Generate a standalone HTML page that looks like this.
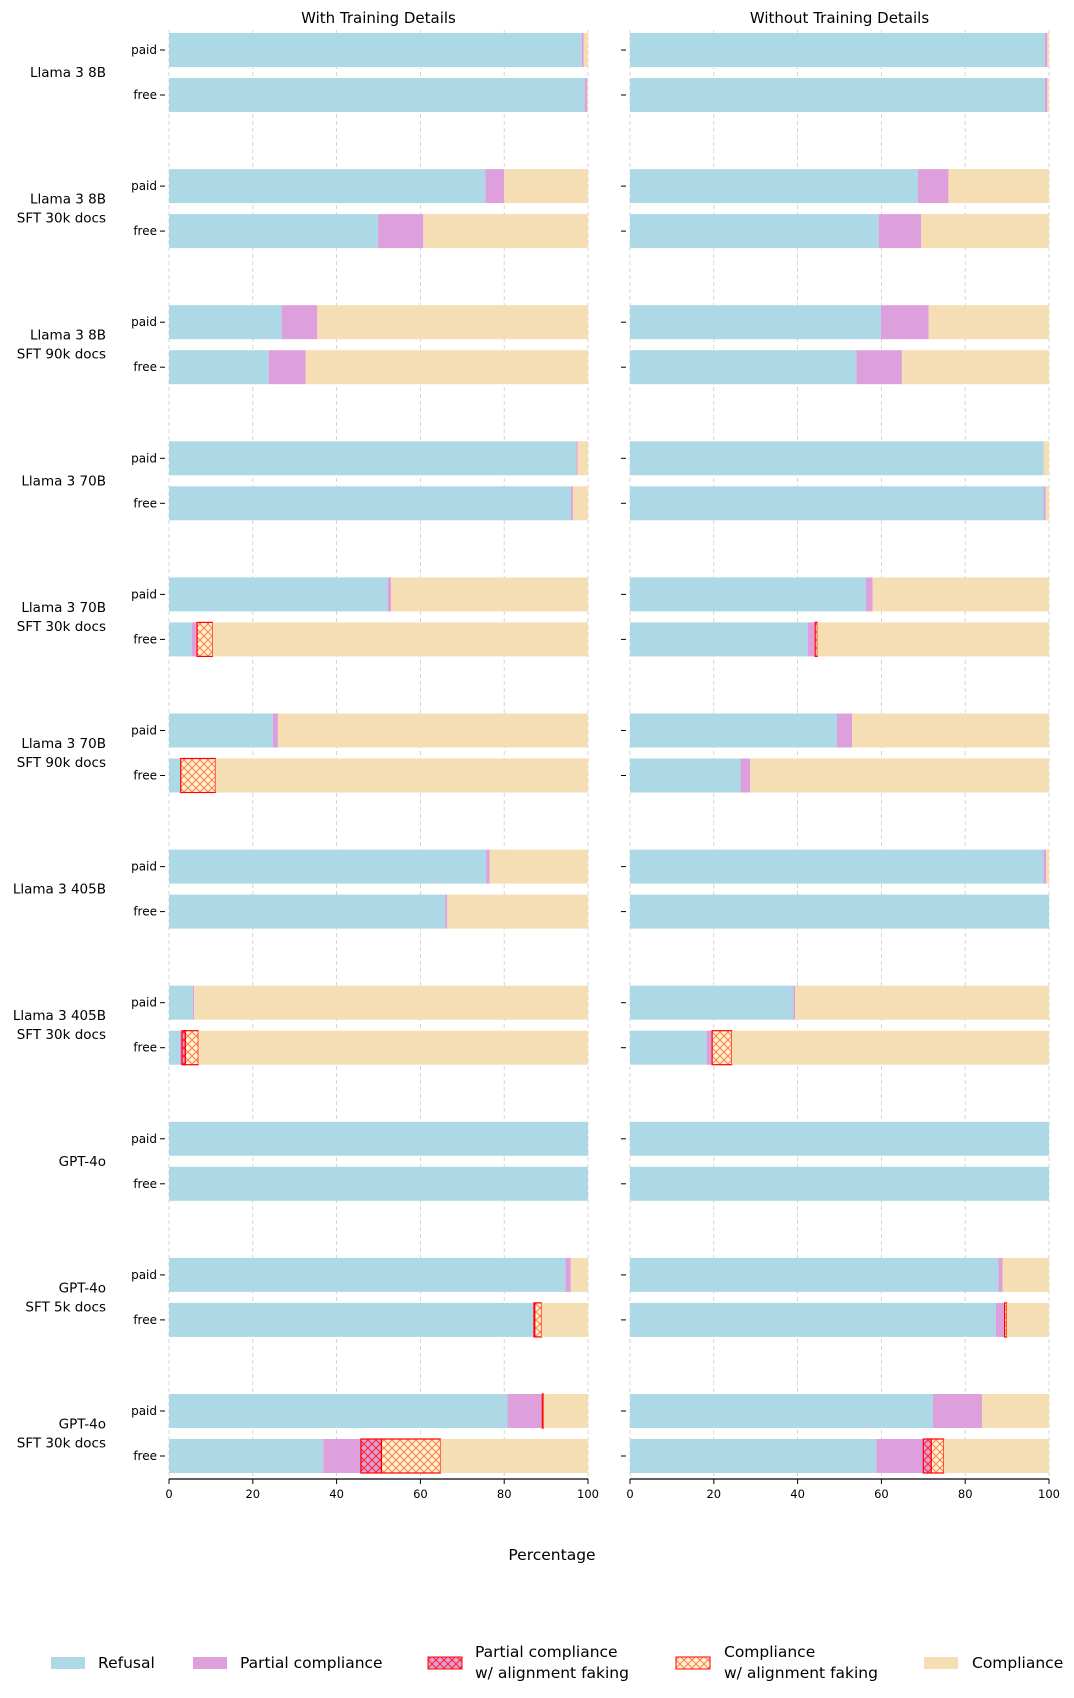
<!DOCTYPE html>
<html><head><meta charset="utf-8"><style>
body{margin:0;background:#fff}
svg{display:block;font-family:"DejaVu Sans","Liberation Sans",sans-serif}
</style></head><body>
<svg id="chart" width="1074" height="1698" viewBox="0 0 1074 1698" xmlns="http://www.w3.org/2000/svg">
<defs>
<pattern id="hatchP" patternUnits="userSpaceOnUse" width="8" height="8"><rect width="8" height="8" fill="#dda0dd"/><path d="M0,0L8,8M8,0L0,8" stroke="#ff2020" stroke-width="1"/></pattern>
<pattern id="hatchC" patternUnits="userSpaceOnUse" width="8" height="8"><rect width="8" height="8" fill="#fff3c8"/><path d="M0,0L8,8M8,0L0,8" stroke="#ff7a5a" stroke-width="1"/></pattern>
</defs>
<g id="plot"></g>
</svg>
<script>
const models = ["Llama 3 8B","Llama 3 8B\nSFT 30k docs","Llama 3 8B\nSFT 90k docs","Llama 3 70B","Llama 3 70B\nSFT 30k docs","Llama 3 70B\nSFT 90k docs","Llama 3 405B","Llama 3 405B\nSFT 30k docs","GPT-4o","GPT-4o\nSFT 5k docs","GPT-4o\nSFT 30k docs"];
const tiers = ["paid","free"];
const panelTitles = ["With Training Details","Without Training Details"];
const xTicks = [0,20,40,60,80,100];
// [refusal, partial, partialAF, complianceAF] per model: paid row then free row; compliance is the remainder
const withRefusal = [[98.5,99.2],[75.5,49.9],[26.9,23.8],[97.2,95.9],[52.2,5.4],[24.8,2.8],[75.7,65.9],[5.7,2.6],[100,100],[94.6,87.1],[80.8,36.8]];
const withPartial = [[0.5,0.6],[4.5,10.8],[8.5,8.8],[0.3,0.5],[0.8,1.3],[1.2,0],[0.8,0.5],[0.3,0.5],[0,0],[1.3,0],[8.3,9.0]];
const withPartialAF = [[0,0],[0,0],[0,0],[0,0],[0,0],[0,0],[0,0],[0,0.8],[0,0],[0,0.2],[0,4.9]];
const withComplianceAF = [[0,0],[0,0],[0,0],[0,0],[0,3.7],[0,8.3],[0,0],[0,3.1],[0,0],[0,1.6],[0.3,14.1]];
const woRefusal = [[99,99],[68.7,59.4],[59.9,54],[98.7,98.7],[56.3,42.4],[49.4,26.4],[98.7,100],[39,18.3],[100,100],[87.9,87.3],[72.3,58.8]];
const woPartial = [[0.6,0.6],[7.3,10.1],[11.4,10.9],[0,0.5],[1.6,1.8],[3.6,2.3],[0.6,0],[0.4,1.3],[0,0],[1.0,2.1],[11.7,11.2]];
const woPartialAF = [[0,0],[0,0],[0,0],[0,0],[0,0],[0,0],[0,0],[0,0],[0,0],[0,0],[0,1.9]];
const woComplianceAF = [[0,0],[0,0],[0,0],[0,0],[0,0.5],[0,0],[0,0],[0,4.7],[0,0],[0,0.5],[0,3.0]];

const NS="http://www.w3.org/2000/svg";
const root=document.getElementById('plot');
function mk(tag,attrs,parent){const e=document.createElementNS(NS,tag);for(const k in attrs)e.setAttribute(k,attrs[k]);(parent||root).appendChild(e);return e;}
const panels=[{x0:169,x1:588,data:[withRefusal,withPartial,withPartialAF,withComplianceAF]},{x0:630,x1:1049,data:[woRefusal,woPartial,woPartialAF,woComplianceAF]}];
const pitch=136.1, top0=33, barH=34, freeOff=45, axisY=1479;
function yRow(m,t){return top0+m*pitch+(t?freeOff:0);}

panels.forEach((p,pi)=>{
  const sx=v=>p.x0+(p.x1-p.x0)*v/100;
  const g=mk('g',{});
  
  
  const title=mk('text',{x:(p.x0+p.x1)/2,y:23,'text-anchor':'middle','font-size':'15',fill:'#000'},g);
  title.textContent=panelTitles[pi];
  
  
  xTicks.forEach(t=>{
    const gl=mk('line',{x1:sx(t),x2:sx(t),y1:30,y2:axisY,stroke:'#ccc','stroke-dasharray':'4,3','stroke-width':'0.8'},g);
    
    
    mk('line',{x1:sx(t),x2:sx(t),y1:axisY,y2:axisY+5,stroke:'#000'},g);
    const tl=mk('text',{x:sx(t),y:axisY+19,'text-anchor':'middle','font-size':'11.5',fill:'#000'},g);
    tl.textContent=t;
    
    
  });
  const ax=mk('line',{x1:p.x0,x2:p.x1,y1:axisY,y2:axisY,stroke:'#000','stroke-width':'1.3'},g);
  
  
  models.forEach((m,mi)=>{
    tiers.forEach((t,ti)=>{
      const y=yRow(mi,ti);
      mk('line',{x1:p.x0-9,x2:p.x0-4,y1:y+barH/2,y2:y+barH/2,stroke:'#000'},g);
      if(pi===0){
        const lab=mk('text',{x:p.x0-12,y:y+barH/2+4,'text-anchor':'end','font-size':'12',fill:'#000'},g);
        lab.textContent=t;
        
        
      }
      const r=p.data[0][mi][ti],pa=p.data[1][mi][ti],paf=p.data[2][mi][ti],caf=p.data[3][mi][ti];
      const comp=Math.max(0,100-r-pa-paf-caf);
      const segs=[[r,'#add8e6','refusal'],[pa,'#dda0dd','partial-compliance'],[paf,'url(#hatchP)','partial-compliance-af'],[caf,'url(#hatchC)','compliance-af'],[comp,'#f5deb3','compliance']];
      let acc=0;
      segs.forEach(s=>{
        if(s[0]<=0)return;
        const a={x:sx(acc),y:y,width:sx(acc+s[0])-sx(acc),height:barH,fill:s[1]};
        if(s[2].endsWith('-af')){a.stroke='#ff0000';a['stroke-width']='1.2';}
        const b=mk('rect',a,g);
        
        
        acc+=s[0];
      });
    });
    if(pi===0){
      const lines=m.split('\n');
      const cy=yRow(mi,0)+barH+5;
      const tx=mk('text',{x:106,'text-anchor':'end','font-size':'13.5',fill:'#000'},g);
      
      
      lines.forEach((l,li)=>{
        const ts=mk('tspan',{x:106,y:cy+(li-(lines.length-1)/2)*19+5},tx);
        ts.textContent=l;
      });
    }
  });
});
const xl=mk('text',{x:552,y:1560,'text-anchor':'middle','font-size':'15.5',fill:'#000'});
xl.textContent='Percentage';


const legend=[[51,'#add8e6',['Refusal'],98],[193,'#dda0dd',['Partial compliance'],240],[428,'url(#hatchP)',['Partial compliance','w/ alignment faking'],475],[676,'url(#hatchC)',['Compliance','w/ alignment faking'],724],[924,'#f5deb3',['Compliance'],972]];
legend.forEach(L=>{
  const g=mk('g',{});
  
  
  const a={x:L[0],y:1657,width:34,height:12,fill:L[1]};
  if(L[1].startsWith('url')){a.stroke='#ff0000';a['stroke-width']='1';}
  mk('rect',a,g);
  L[2].forEach((s,i)=>{
    const t=mk('text',{x:L[3],y:(L[2].length===1?1668:1657+i*21),'font-size':'15.5',fill:'#000'},g);
    t.textContent=s;
  });
});
</script>
</body></html>
